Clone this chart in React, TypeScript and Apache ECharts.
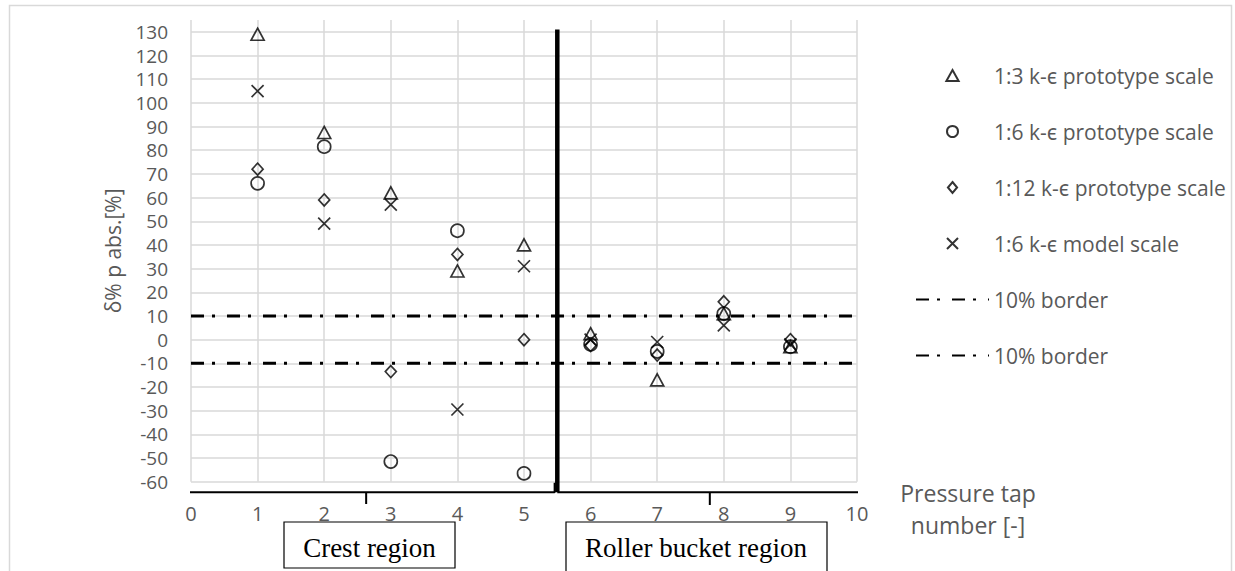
import React, { useEffect, useRef } from 'react';
import * as echarts from 'echarts';

// ---- data ----
const tapNumbers = [1, 2, 3, 4, 5, 6, 7, 8, 9];
const proto13 = [129, 87.5, 62, 29, 40, 2.5, -17, 11, -3];
const proto16 = [66, 81.5, -51.5, 46, -56.5, -2, -5, 11, -3];
const proto112 = [72, 59, -13.5, 36, 0, -2.5, -6.5, 16, 0];
const model16 = [105, 49, 57, -29.5, 31, 0, -1, 6, -2];

const seriesNames = [
  '1:3 k-ϵ prototype scale',
  '1:6 k-ϵ prototype scale',
  '1:12 k-ϵ prototype scale',
  '1:6 k-ϵ model scale',
  '10% border',
  '10% border ',
];

// annotation lines (data coordinates)
const borderUpper = [[0, 10], [10, 10]];
const borderLower = [[0, -10], [10, -10]];
const regionDivider = [[5.5, 131], [5.5, -64.5]];
const crestBrace = [[-0.22, -60.4], [-0.22, -64.5], [2.63, -64.5], [2.63, -69.4], [2.63, -64.5], [5.46, -64.5], [5.46, -60.4]];
const bucketBrace = [[5.5, -64.5], [7.79, -64.5], [7.79, -69.8], [7.79, -64.5], [10.12, -64.5], [10.12, -59.6]];

const GREY = '#595959';
const FONT = "'Open Sans', 'Noto Sans', sans-serif";
const CROSS = 'path://M0 0L10 10M10 0L0 10';
const TRIANGLE = 'path://M5 0L10 9L0 9Z';
const DIAMOND = 'path://M5 0L10 6L5 12L0 6Z';

const pts = (ys: number[]) => tapNumbers.map((x, i) => [x, ys[i]]);

export default function App() {
  const ref = useRef<HTMLDivElement>(null);
  useEffect(() => {
    document.body.style.margin = '0';
    const chart = echarts.init(ref.current!, undefined, { renderer: 'svg' });
    const markerStyle = { color: 'transparent', borderColor: '#000', borderWidth: 1.7 };
    const dashDot = { color: '#000', width: 3, type: [13, 8, 3, 12] as number[], cap: 'butt' as const };
    const lineLegendItem = (name: string) => ({
      name,
      itemStyle: { color: 'transparent', borderColor: 'transparent', borderWidth: 0, opacity: 0 },
    });
    chart.setOption({
      animation: false,
      backgroundColor: '#fff',
      grid: { left: 191, right: 378, top: 20, bottom: 89.3 },
      xAxis: {
        type: 'value',
        min: 0,
        max: 10,
        interval: 1,
        axisLine: { show: false },
        axisTick: { show: false },
        axisLabel: { color: GREY, fontSize: 20, fontFamily: FONT, margin: 22 },
        splitLine: { show: true, lineStyle: { color: '#d9d9d9', width: 1.5 } },
      },
      yAxis: {
        type: 'value',
        min: -60,
        max: 135,
        interval: 10,
        axisLine: { show: false },
        axisTick: { show: false },
        axisLabel: { color: GREY, fontSize: 19, lineHeight: 19, fontFamily: FONT, margin: 23, showMaxLabel: false },
        splitLine: { show: true, showMaxLine: false, lineStyle: { color: '#d9d9d9', width: 1.5 } },
        name: 'δ% p abs.[%]',
        nameLocation: 'middle',
        nameGap: 68,
        nameTextStyle: { color: GREY, fontSize: 21, fontFamily: FONT },
      },
      legend: {
        orient: 'vertical',
        left: 910,
        top: 60,
        itemWidth: 73,
        itemHeight: 11,
        itemGap: 35,
        data: [
          seriesNames[0], seriesNames[1], seriesNames[2], seriesNames[3],
          lineLegendItem(seriesNames[4]), lineLegendItem(seriesNames[5]),
        ],
        textStyle: { color: GREY, fontSize: 21, fontFamily: FONT },
        selectedMode: false,
      },
      series: [
        { name: seriesNames[0], type: 'scatter', data: pts(proto13), symbol: TRIANGLE, symbolSize: [13, 12], itemStyle: markerStyle, z: 5 },
        { name: seriesNames[1], type: 'scatter', data: pts(proto16), symbol: 'circle', symbolSize: 13, itemStyle: markerStyle, z: 5 },
        { name: seriesNames[2], type: 'scatter', data: pts(proto112), symbol: DIAMOND, symbolSize: [11, 12], itemStyle: markerStyle, z: 5 },
        { name: seriesNames[3], type: 'scatter', data: pts(model16), symbol: CROSS, symbolSize: 12, itemStyle: markerStyle, z: 5 },
        { name: seriesNames[4], type: 'line', data: borderUpper, symbol: 'none', lineStyle: dashDot, itemStyle: { color: '#000' }, z: 4 },
        { name: seriesNames[5], type: 'line', data: borderLower, symbol: 'none', lineStyle: dashDot, itemStyle: { color: '#000' }, z: 4 },
        { name: 'divider', type: 'line', data: regionDivider, symbol: 'none', clip: false, lineStyle: { color: '#000', width: 4.5 }, z: 6 },
        { name: 'crestBrace', type: 'line', data: crestBrace, symbol: 'none', clip: false, lineStyle: { color: '#000', width: 2 }, z: 6 },
        { name: 'bucketBrace', type: 'line', data: bucketBrace, symbol: 'none', clip: false, lineStyle: { color: '#000', width: 2 }, z: 6 },
      ],
      graphic: [
        { type: 'rect', z: 0, silent: true, shape: { x: 9.5, y: 5.5, width: 1222, height: 620 }, style: { fill: 'none', stroke: '#d9d9d9', lineWidth: 1.5 } },
        { type: 'text', z: 50, x: 968, y: 493, style: { text: 'Pressure tap', fill: GREY, font: `23px ${FONT}`, align: 'center', verticalAlign: 'middle' } },
        { type: 'text', z: 50, x: 968, y: 525, style: { text: 'number [-]', fill: GREY, font: `23px ${FONT}`, align: 'center', verticalAlign: 'middle' } },
        {
          type: 'group', z: 100, children: [
            { type: 'rect', shape: { x: 284, y: 522, width: 171, height: 46 }, style: { fill: '#fff', stroke: '#000', lineWidth: 1.2 } },
            { type: 'text', x: 369.5, y: 548, style: { text: 'Crest region', fill: '#000', font: "27px 'Liberation Serif', 'Times New Roman', serif", align: 'center', verticalAlign: 'middle' } },
            { type: 'rect', shape: { x: 566, y: 522, width: 261, height: 50 }, style: { fill: '#fff', stroke: '#000', lineWidth: 1.2 } },
            { type: 'text', x: 696, y: 548, style: { text: 'Roller bucket region', fill: '#000', font: "27px 'Liberation Serif', 'Times New Roman', serif", align: 'center', verticalAlign: 'middle' } },
          ],
        },
      ],
    });
    return () => chart.dispose();
  }, []);
  return <div ref={ref} style={{ position: 'fixed', left: 0, top: 0, width: 1235, height: 571 }} />;
}
